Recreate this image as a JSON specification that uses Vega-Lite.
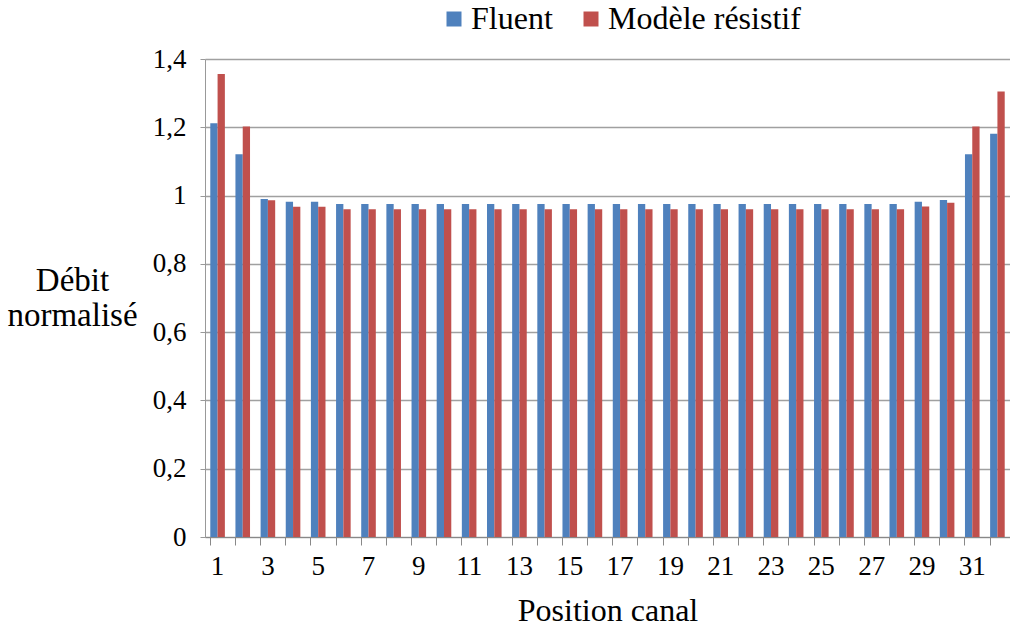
{
  "$schema": "https://vega.github.io/schema/vega-lite/v6.json",
  "width": 805,
  "height": 478,
  "autosize": {"type": "none"},
  "padding": {"left": 205, "top": 59, "right": 0, "bottom": 91},
  "background": "white",
  "config": {
    "font": "Liberation Serif",
    "view": {"stroke": null},
    "axis": {"labelFont": "Liberation Serif", "titleFont": "Liberation Serif", "labelColor": "black", "titleColor": "black", "titleFontWeight": "normal"},
    "legend": {"labelFont": "Liberation Serif"}
  },
  "data": {
    "values": [
      {"position": 1, "Fluent": 1.212, "Modèle résistif": 1.356},
      {"position": 2, "Fluent": 1.121, "Modèle résistif": 1.202},
      {"position": 3, "Fluent": 0.990, "Modèle résistif": 0.986},
      {"position": 4, "Fluent": 0.982, "Modèle résistif": 0.967},
      {"position": 5, "Fluent": 0.982, "Modèle résistif": 0.967},
      {"position": 6, "Fluent": 0.975, "Modèle résistif": 0.960},
      {"position": 7, "Fluent": 0.975, "Modèle résistif": 0.960},
      {"position": 8, "Fluent": 0.975, "Modèle résistif": 0.960},
      {"position": 9, "Fluent": 0.975, "Modèle résistif": 0.960},
      {"position": 10, "Fluent": 0.975, "Modèle résistif": 0.960},
      {"position": 11, "Fluent": 0.975, "Modèle résistif": 0.960},
      {"position": 12, "Fluent": 0.975, "Modèle résistif": 0.960},
      {"position": 13, "Fluent": 0.975, "Modèle résistif": 0.960},
      {"position": 14, "Fluent": 0.975, "Modèle résistif": 0.960},
      {"position": 15, "Fluent": 0.975, "Modèle résistif": 0.960},
      {"position": 16, "Fluent": 0.975, "Modèle résistif": 0.960},
      {"position": 17, "Fluent": 0.975, "Modèle résistif": 0.960},
      {"position": 18, "Fluent": 0.975, "Modèle résistif": 0.960},
      {"position": 19, "Fluent": 0.975, "Modèle résistif": 0.960},
      {"position": 20, "Fluent": 0.975, "Modèle résistif": 0.960},
      {"position": 21, "Fluent": 0.975, "Modèle résistif": 0.960},
      {"position": 22, "Fluent": 0.975, "Modèle résistif": 0.960},
      {"position": 23, "Fluent": 0.975, "Modèle résistif": 0.960},
      {"position": 24, "Fluent": 0.975, "Modèle résistif": 0.960},
      {"position": 25, "Fluent": 0.975, "Modèle résistif": 0.960},
      {"position": 26, "Fluent": 0.975, "Modèle résistif": 0.960},
      {"position": 27, "Fluent": 0.975, "Modèle résistif": 0.960},
      {"position": 28, "Fluent": 0.975, "Modèle résistif": 0.960},
      {"position": 29, "Fluent": 0.982, "Modèle résistif": 0.968},
      {"position": 30, "Fluent": 0.987, "Modèle résistif": 0.979},
      {"position": 31, "Fluent": 1.121, "Modèle résistif": 1.202},
      {"position": 32, "Fluent": 1.181, "Modèle résistif": 1.305}
    ]
  },
  "transform": [{"fold": ["Fluent", "Modèle résistif"], "as": ["serie", "debit"]}],
  "mark": {"type": "bar"},
  "encoding": {
    "x": {
      "field": "position",
      "type": "ordinal",
      "scale": {"paddingInner": 0.42, "paddingOuter": 0.21},
      "axis": {
        "title": "Position canal",
        "titleFontSize": 32,
        "titlePadding": 16,
        "labelAngle": 0,
        "labelFontSize": 27,
        "labelPadding": 8,
        "labelExpr": "datum.value % 2 == 1 ? datum.label : ''",
        "bandPosition": 0,
        "tickSize": 8,
        "tickColor": "#888888",
        "domainColor": "#888888",
        "labelBound": false,
        "labelOverlap": false
      }
    },
    "xOffset": {"field": "serie", "type": "nominal", "sort": ["Fluent", "Modèle résistif"], "scale": {"paddingInner": 0}},
    "y": {
      "field": "debit",
      "type": "quantitative",
      "scale": {"domain": [0, 1.4], "nice": false},
      "axis": {
        "values": [0, 0.2, 0.4, 0.6, 0.8, 1, 1.2, 1.4],
        "labelExpr": "replace(format(datum.value, '~g'), '.', ',')",
        "labelFontSize": 27,
        "labelPadding": 14,
        "tickSize": 5,
        "tickColor": "#999999",
        "domainColor": "#999999",
        "gridColor": "#A0A0A0",
        "gridWidth": 1.3,
        "title": ["Débit", "normalisé"],
        "titleFontSize": 33,
        "titleAngle": 0,
        "titleAlign": "center",
        "titleBaseline": "alphabetic",
        "titleX": -133,
        "titleY": 231,
        "titleLineHeight": 35
      }
    },
    "color": {
      "field": "serie",
      "type": "nominal",
      "scale": {"domain": ["Fluent", "Modèle résistif"], "range": ["#4F81BD", "#C0504D"]},
      "legend": {
        "title": null,
        "orient": "none",
        "direction": "horizontal",
        "legendX": 233,
        "legendY": -56,
        "symbolType": "square",
        "symbolSize": 225,
        "symbolOpacity": 1,
        "labelFontSize": 32,
        "labelLimit": 400,
        "labelColor": "black",
        "columnPadding": 22,
        "labelOffset": 1
      }
    }
  }
}
